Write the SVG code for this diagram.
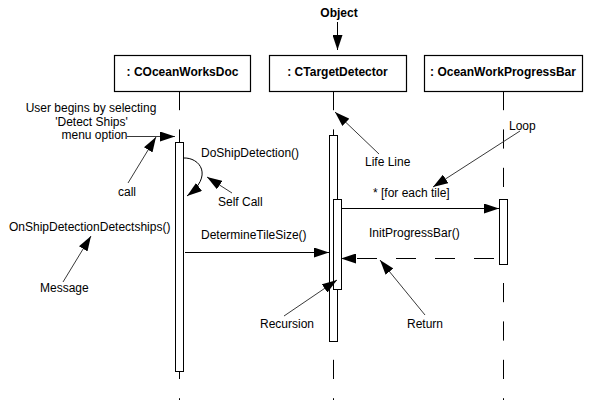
<svg xmlns="http://www.w3.org/2000/svg" width="600" height="400" viewBox="0 0 600 400">
<defs>
<style>
text{font-family:"Liberation Sans",Arial,sans-serif;font-size:12px;fill:#000}
.b{font-weight:bold}
.box{fill:#fff;stroke:#000;stroke-width:1.2}
.life{stroke:#000;stroke-width:1;stroke-dasharray:19.2 19.2;fill:none}
.act{fill:#fff;stroke:#000;stroke-width:1}
.msg{stroke:#000;stroke-width:1;fill:none}
.note{stroke:#222;stroke-width:0.9;fill:none}
</style>
<marker id="ah" markerUnits="userSpaceOnUse" markerWidth="15" markerHeight="10" refX="15" refY="5" orient="auto" viewBox="0 0 15 10">
<path d="M0,0 L15,5 L0,10 z" fill="#000"/>
</marker>
</defs>
<rect width="600" height="400" fill="#fff"/>

<g id="lifelines">
<line class="life" x1="179.5" y1="91" x2="179.5" y2="400"/>
<line class="life" x1="333.5" y1="91" x2="333.5" y2="400"/>
<line class="life" x1="503.5" y1="91" x2="503.5" y2="400"/>
</g>

<g id="node-coceanworksdoc">
<rect class="box" x="114.5" y="55.5" width="136" height="36"/>
<text class="b" x="182.5" y="76" text-anchor="middle">: COceanWorksDoc</text>
<rect class="act" x="175.5" y="142.5" width="8" height="229"/>
</g>

<g id="node-ctargetdetector">
<rect class="box" x="269.5" y="55.5" width="137" height="36"/>
<text class="b" x="337.5" y="76" text-anchor="middle">: CTargetDetector</text>
<rect class="act" x="329.5" y="135.5" width="8" height="206"/>
<rect class="act" x="333.5" y="199.5" width="8" height="90"/>
</g>

<g id="node-progressbar">
<rect class="box" x="424.5" y="55.5" width="158" height="36"/>
<text class="b" x="503" y="76" text-anchor="middle">: OceanWorkProgressBar</text>
<rect class="act" x="499.5" y="199.5" width="8" height="65"/>
</g>

<g id="connectors">
<path class="msg" d="M183,158 C200,157 214,176 187,196" marker-end="url(#ah)"/>
<line class="msg" x1="185" y1="252.5" x2="329" y2="252.5" marker-end="url(#ah)"/>
<line class="msg" x1="342" y1="208.5" x2="499" y2="208.5" marker-end="url(#ah)"/>
<line class="msg" x1="494" y1="258.5" x2="341" y2="258.5" stroke-dasharray="20 19" marker-end="url(#ah)"/>
<line class="msg" x1="337.5" y1="22" x2="337.5" y2="50" marker-end="url(#ah)"/>
<line class="note" x1="127" y1="136.5" x2="175" y2="136.5" marker-end="url(#ah)"/>
<line class="note" x1="128" y1="183" x2="156" y2="137" marker-end="url(#ah)"/>
<line class="note" x1="232" y1="193" x2="207" y2="177" marker-end="url(#ah)"/>
<line class="note" x1="63" y1="282" x2="91" y2="236" marker-end="url(#ah)"/>
<line class="note" x1="379" y1="154" x2="335" y2="112" marker-end="url(#ah)"/>
<line class="note" x1="520" y1="131" x2="433" y2="187" marker-end="url(#ah)"/>
<line class="note" x1="284" y1="316" x2="337" y2="280" marker-end="url(#ah)"/>
<line class="note" x1="425" y1="315" x2="380" y2="260" marker-end="url(#ah)"/>
</g>

<g id="labels">
<text class="b" x="339" y="17" text-anchor="middle">Object</text>
<text x="91" y="112" text-anchor="middle">User begins by selecting</text>
<text x="91.5" y="126" text-anchor="middle">'Detect Ships'</text>
<text x="94.5" y="139" text-anchor="middle">menu option</text>
<text x="118" y="196">call</text>
<text x="201" y="157">DoShipDetection()</text>
<text x="218" y="206">Self Call</text>
<text x="9" y="231">OnShipDetectionDetectships()</text>
<text x="201" y="239">DetermineTileSize()</text>
<text x="40" y="292">Message</text>
<text x="365" y="166">Life Line</text>
<text x="509" y="130">Loop</text>
<text x="373" y="197">* [for each tile]</text>
<text x="369" y="237">InitProgressBar()</text>
<text x="260" y="328">Recursion</text>
<text x="407" y="328">Return</text>
</g>
</svg>
